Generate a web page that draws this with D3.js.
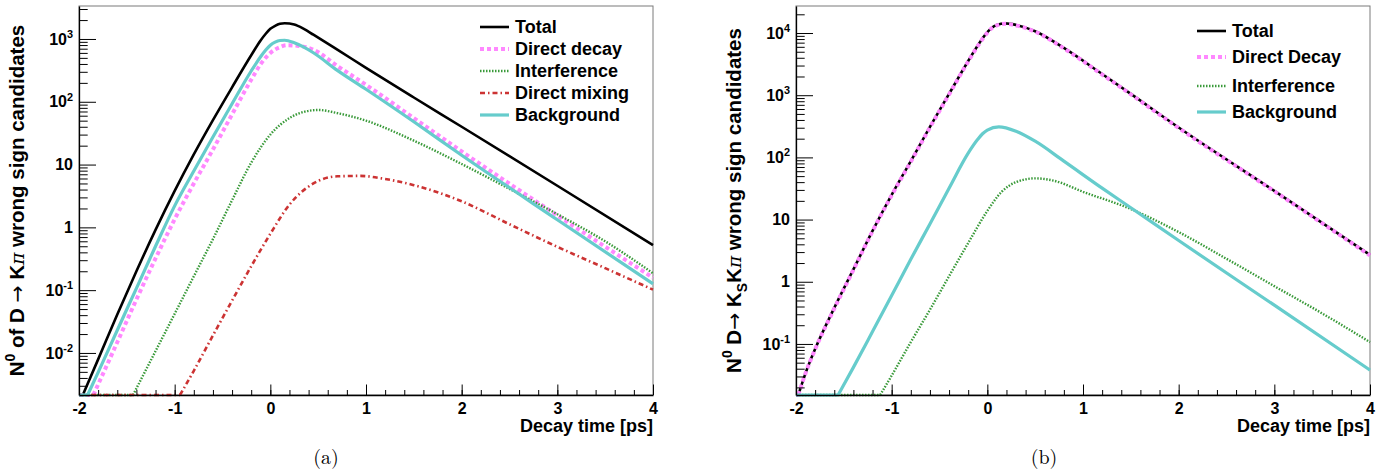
<!DOCTYPE html>
<html>
<head>
<meta charset="utf-8">
<script src="https://cdn.jsdelivr.net/npm/d3@7"></script>
<style>
  body { margin: 0; background: #fff; }
  svg text { font-family: "Liberation Sans", Arial, Helvetica, sans-serif; font-weight: bold; fill: #000; }
</style>
</head>
<body>
<svg id="chart" width="1385" height="475"></svg>
<script>
// decay time axis (ps)
const timeRange = [-2, 4];
const timeTicks = [-2, -1, 0, 1, 2, 3, 4];

// panel (a): D -> K pi
const aRange = [0.00214, 3350];
const aDecades = [-2, -1, 0, 1, 2, 3];
const aTotal = [[-2, 0.001], [-1.96, 0.0021], [-1.8, 0.0079], [-1.6, 0.041], [-1.4, 0.20], [-1.2, 0.91],
  [-1.0, 3.8], [-0.8, 14.5], [-0.6, 51], [-0.4, 170], [-0.2, 550], [-0.1, 955], [-0.05, 1200], [0, 1450],
  [0.05, 1620], [0.1, 1740], [0.15, 1780], [0.25, 1700], [0.35, 1450], [0.45, 1170], [0.7, 676],
  [1.0, 347], [1.5, 117], [2.0, 40], [3.0, 4.6], [4.0, 0.52]];
const aDirect = [[-2, 0.001], [-1.85, 0.0021], [-1.6, 0.0148], [-1.4, 0.071], [-1.2, 0.32], [-1.0, 1.35],
  [-0.8, 5.0], [-0.6, 17.4], [-0.4, 63], [-0.2, 224], [-0.1, 400], [0, 600], [0.1, 740], [0.17, 794],
  [0.3, 776], [0.45, 676], [0.7, 372], [1.0, 186], [1.5, 55], [2.0, 16.2], [3.0, 1.55], [4.0, 0.158]];
const aInterf = [[-2, 0.001], [-1.435, 0.0021], [-1.2, 0.0107], [-1.0, 0.042], [-0.8, 0.166], [-0.6, 0.65],
  [-0.4, 2.7], [-0.2, 10.7], [0, 30], [0.2, 55], [0.35, 69], [0.5, 74], [0.7, 66], [1.0, 50], [1.5, 24],
  [2.0, 10.2], [2.5, 4.1], [3.0, 1.62], [3.5, 0.60], [4.0, 0.186]];
const aMixing = [[-2, 0.001], [-0.944, 0.0021], [-0.8, 0.0052], [-0.6, 0.019], [-0.4, 0.068], [-0.2, 0.24],
  [0, 0.79], [0.2, 2.3], [0.45, 5.0], [0.7, 6.5], [0.94, 6.6], [1.2, 5.9], [1.5, 4.7], [2.0, 2.6],
  [2.5, 1.12], [3.0, 0.49], [3.5, 0.224], [4.0, 0.102]];
const aBackground = [[-2, 0.001], [-1.91, 0.0021], [-1.8, 0.0049], [-1.6, 0.023], [-1.4, 0.107], [-1.2, 0.50],
  [-1.0, 2.2], [-0.8, 7.9], [-0.6, 27.5], [-0.4, 93], [-0.2, 309], [-0.1, 525], [-0.05, 660], [0, 795],
  [0.05, 890], [0.1, 945], [0.15, 955], [0.25, 870], [0.35, 740], [0.45, 603], [0.7, 316], [1.0, 158],
  [1.5, 48], [2.0, 14.1], [3.0, 1.32], [4.0, 0.126]];

// panel (b): D -> Ks K pi
const bRange = [0.0151, 27200];
const bDecades = [-1, 0, 1, 2, 3, 4];
const bTotal = [[-2, 0.01], [-1.976, 0.0148], [-1.9, 0.034], [-1.8, 0.083], [-1.6, 0.38], [-1.4, 1.58],
  [-1.2, 6.6], [-1.0, 25], [-0.8, 87], [-0.6, 309], [-0.4, 1050], [-0.2, 3550], [-0.1, 6300], [0, 10300],
  [0.05, 12300], [0.1, 13500], [0.185, 14300], [0.3, 13500], [0.5, 10700], [0.8, 5750], [1.2, 2190],
  [1.5, 1050], [2.0, 302], [3.0, 29], [4.0, 2.7]];
const bDirect = [[-2, 0.01], [-1.976, 0.0148], [-1.9, 0.034], [-1.8, 0.082], [-1.6, 0.37], [-1.4, 1.55],
  [-1.2, 6.5], [-1.0, 24.5], [-0.8, 85], [-0.6, 303], [-0.4, 1030], [-0.2, 3480], [-0.1, 6180], [0, 10100],
  [0.05, 12100], [0.1, 13250], [0.185, 14050], [0.3, 13250], [0.5, 10500], [0.8, 5650], [1.2, 2150],
  [1.5, 1030], [2.0, 296], [3.0, 28.5], [4.0, 2.65]];
const bInterf = [[-2, 0.01], [-1.12, 0.0148], [-1.0, 0.031], [-0.8, 0.107], [-0.6, 0.355], [-0.4, 1.23],
  [-0.2, 4.2], [0, 13.8], [0.15, 28], [0.3, 40], [0.5, 46], [0.7, 42], [1.0, 28], [1.5, 14.8], [2.0, 6.3],
  [2.5, 2.34], [3.0, 0.85], [3.5, 0.31], [4.0, 0.107]];
const bBackground = [[-2, 0.01], [-1.56, 0.0148], [-1.4, 0.042], [-1.2, 0.158], [-1.0, 0.60], [-0.8, 2.3],
  [-0.6, 8.5], [-0.4, 32], [-0.2, 117], [-0.1, 195], [-0.05, 240], [0, 275], [0.12, 309], [0.3, 263],
  [0.5, 182], [0.8, 87], [1.2, 32], [1.5, 15.5], [2.0, 4.6], [3.0, 0.42], [4.0, 0.038]];

const STYLES = {
  total:      { color: "#000000", width: 2.6, dash: null },
  direct:     { color: "#ff88ff", width: 4,   dash: "4,3" },
  interf:     { color: "#3a9a3a", width: 2.4, dash: "1.5,1.5" },
  mixing:     { color: "#cc3333", width: 2.6, dash: "5,3,1.5,3" },
  background: { color: "#66cccc", width: 3.2, dash: null }
};

const panels = [
  {
    left: 79, right: 653, yRange: aRange, decades: aDecades, caption: "(a)", captionX: 326,
    titleX: 24, legendX: 480, legendRows: [27, 49, 71, 93, 115],
    title: [["N"], ["0", "sup"], [" of D "], ["\u2192", "arrow"], [" K"], ["\u03c0", "pi"], [" wrong sign candidates"]],
    series: [
      { data: aTotal, style: "total", label: "Total" },
      { data: aDirect, style: "direct", label: "Direct decay" },
      { data: aInterf, style: "interf", label: "Interference" },
      { data: aMixing, style: "mixing", label: "Direct mixing" },
      { data: aBackground, style: "background", label: "Background" }
    ]
  },
  {
    left: 796, right: 1370, yRange: bRange, decades: bDecades, caption: "(b)", captionX: 1044,
    titleX: 741, legendX: 1197, legendRows: [31, 57, 86, 112],
    title: [["N"], ["0", "sup"], [" D"], ["\u2192", "arrow"], [" K"], ["S", "sub"], ["K"], ["\u03c0", "pi"], [" wrong sign candidates"]],
    series: [
      { data: bTotal, style: "total", label: "Total" },
      { data: bDirect, style: "direct", label: "Direct Decay" },
      { data: bInterf, style: "interf", label: "Interference" },
      { data: bBackground, style: "background", label: "Background" }
    ]
  }
];

const TOP = 6, BOTTOM = 395;
const svg = d3.select("#chart");

function styled(path, st) {
  path.attr("fill", "none")
    .attr("stroke", st.color)
    .attr("stroke-width", st.width)
    .attr("stroke-dasharray", st.dash)
    .attr("stroke-linejoin", "round");
  return path;
}

function drawSeries(g, x, y, s) {
  const st = STYLES[s.style];
  const yMin = y.domain()[0];
  const pts = s.data;
  // points below the axis minimum are drawn along the bottom, as ROOT does
  let k = 0;
  while (k < pts.length - 1 && pts[k + 1][1] <= yMin) k++;
  if (k > 0) {
    styled(g.append("path"), st)
      .attr("d", d3.line().x(d => x(d[0])).y(d => y(d[1]))(pts.slice(0, k + 1)));
  }
  styled(g.append("path"), st)
    .attr("d", d3.line().curve(d3.curveMonotoneX).x(d => x(d[0])).y(d => y(d[1]))(pts.slice(k)));
}

// text with superscripts, subscripts and symbol-font glyphs
function addRich(text, parts, size) {
  let shift = 0;
  parts.forEach(([str, kind]) => {
    const t = text.append("tspan").text(str);
    let target = 0;
    if (kind === "sup") { t.attr("font-size", size * 0.68); target = -size * 0.42; }
    else if (kind === "sub") { t.attr("font-size", size * 0.68); target = size * 0.3; }
    else if (kind === "pi") {
      t.attr("font-family", '"DejaVu Serif", serif').attr("font-style", "italic")
        .attr("font-weight", "normal").attr("font-size", size * 0.9);
    } else if (kind === "arrow") {
      t.attr("font-family", '"DejaVu Sans", sans-serif').attr("font-weight", "normal");
    }
    if (target !== shift) t.attr("dy", target - shift);
    shift = target;
  });
}

function drawPanel(p) {
  const x = d3.scaleLinear().domain(timeRange).range([p.left, p.right]);
  const y = d3.scaleLog().domain(p.yRange).range([BOTTOM, TOP]).clamp(true);
  const g = svg.append("g");

  g.append("rect")
    .attr("x", p.left).attr("y", TOP)
    .attr("width", p.right - p.left).attr("height", BOTTOM - TOP)
    .attr("fill", "none").attr("stroke", "#7a7a7a").attr("stroke-width", 1);

  p.series.forEach(s => drawSeries(g, x, y, s));

  // x axis: minor ticks every 0.2 ps, then the labelled ones
  const minorX = d3.range(-10, 21).map(i => i / 5);
  g.append("g").attr("transform", `translate(0,${BOTTOM})`)
    .call(d3.axisBottom(x).tickValues(minorX).tickSize(-5).tickFormat(""))
    .call(a => a.select(".domain").remove())
    .selectAll("line").attr("stroke", "#000");
  const xa = g.append("g").attr("transform", `translate(0,${BOTTOM})`)
    .call(d3.axisBottom(x).tickValues(timeTicks).tickSizeInner(-10.5).tickSizeOuter(0)
      .tickPadding(7.5).tickFormat(d => String(d)));
  xa.select(".domain").attr("stroke", "#000").attr("stroke-width", 1.3);
  xa.selectAll("text").attr("font-size", 16)
    .attr("font-family", '"Liberation Sans", Arial, sans-serif').attr("font-weight", "bold");

  // y axis: decades plus 2..9 minor ticks
  const [lo, hi] = p.yRange;
  const minorY = [];
  for (let e = Math.floor(Math.log10(lo)); e <= Math.ceil(Math.log10(hi)); e++) {
    for (let m = 2; m <= 9; m++) {
      const v = m * Math.pow(10, e);
      if (v >= lo && v <= hi) minorY.push(v);
    }
  }
  g.append("g").attr("transform", `translate(${p.left},0)`)
    .call(d3.axisLeft(y).tickValues(minorY).tickSize(-8.7).tickFormat(""))
    .call(a => a.select(".domain").remove())
    .selectAll("line").attr("stroke", "#000");
  const ya = g.append("g").attr("transform", `translate(${p.left},0)`)
    .call(d3.axisLeft(y).tickValues(p.decades.map(e => Math.pow(10, e)))
      .tickSizeInner(-17).tickSizeOuter(0).tickPadding(6).tickFormat(""));
  ya.select(".domain").attr("stroke", "#000").attr("stroke-width", 1.3);
  ya.selectAll(".tick text").each(function (d) {
    const e = Math.round(Math.log10(d));
    const t = d3.select(this).attr("font-size", 16)
      .attr("font-family", '"Liberation Sans", Arial, sans-serif').attr("font-weight", "bold");
    if (e === 0) t.text("1");
    else if (e === 1) t.text("10");
    else addRich(t, [["10"], [String(e), "sup"]], 16);
  });

  // axis titles
  g.append("text")
    .attr("x", p.right).attr("y", 432)
    .attr("text-anchor", "end").attr("font-size", 18)
    .text("Decay time [ps]");
  const yt = g.append("text")
    .attr("transform", `translate(${p.titleX},${(TOP + BOTTOM) / 2}) rotate(-90)`)
    .attr("text-anchor", "middle").attr("font-size", 20.5);
  addRich(yt, p.title, 20.5);

  // legend
  p.series.forEach((s, i) => {
    const st = STYLES[s.style];
    const ry = p.legendRows[i];
    styled(g.append("line"), st)
      .attr("x1", p.legendX).attr("x2", p.legendX + 29)
      .attr("y1", ry).attr("y2", ry);
    g.append("text")
      .attr("x", p.legendX + 35).attr("y", ry).attr("dy", "0.36em")
      .attr("font-size", 18)
      .text(s.label);
  });

  // caption
  g.append("text")
    .attr("x", p.captionX).attr("y", 464)
    .attr("text-anchor", "middle")
    .style("font-family", '"Latin Modern Roman", "DejaVu Serif", "Liberation Serif", serif')
    .style("font-weight", "normal")
    .attr("font-size", 20)
    .text(p.caption);
}

panels.forEach(drawPanel);
</script>
</body>
</html>
